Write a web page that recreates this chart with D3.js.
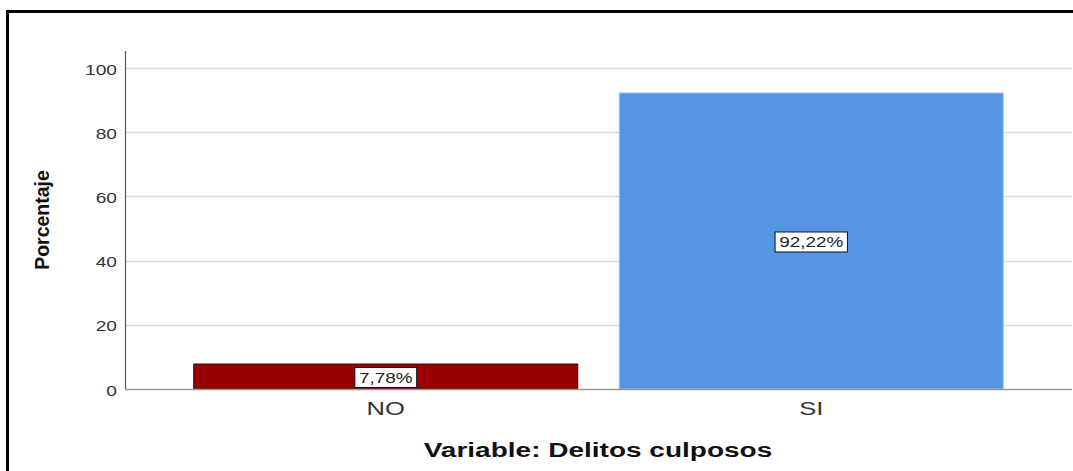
<!DOCTYPE html>
<html>
<head>
<meta charset="utf-8">
<script src="https://cdn.jsdelivr.net/npm/d3@7.9.0/dist/d3.min.js"></script>
<style>
  body { margin: 0; background: #fff; }
  svg { display: block; font-family: "Liberation Sans", Arial, sans-serif; }
</style>
</head>
<body>
<svg id="chart" width="1073" height="471"></svg>
<script>
// Data
const categories = ['NO', 'SI'];
const percentages = [7.78, 92.22];
const barLabels = ['7,78%', '92,22%'];
const colors = ['#990000', '#5596E4'];
const strokes = ['#3a0000', '#9cc3f2'];
const yTicks = [0, 20, 40, 60, 80, 100];

const svg = d3.select('#chart');

// Outer frame
svg.append('path')
  .attr('d', 'M7.5,471 V11.5 H1073')
  .attr('fill', 'none')
  .attr('stroke', '#000')
  .attr('stroke-width', 3);

const plotLeft = 125, plotRight = 1072, plotTop = 51, plotBottom = 389;

const x = d3.scaleBand()
  .domain(categories)
  .range([plotLeft, plotRight])
  .paddingInner(0.0975)
  .paddingOuter(0.1616);

const y = d3.scaleLinear()
  .domain([0, 100])
  .range([plotBottom, 68]);

// Gridlines
svg.append('g')
  .selectAll('line')
  .data(yTicks.filter(d => d > 0))
  .join('line')
  .attr('x1', plotLeft + 1)
  .attr('x2', plotRight)
  .attr('y1', d => Math.round(y(d)) + 0.5)
  .attr('y2', d => Math.round(y(d)) + 0.5)
  .attr('stroke', '#d9d9d9')
  .attr('stroke-width', 1.5);

// Bars
const data = categories.map((c, i) => ({ cat: c, value: percentages[i], label: barLabels[i], i }));

svg.append('g')
  .selectAll('rect')
  .data(data)
  .join('rect')
  .attr('x', d => x(d.cat))
  .attr('y', d => y(d.value))
  .attr('width', x.bandwidth())
  .attr('height', d => y(0) - y(d.value))
  .attr('fill', d => colors[d.i])
  .attr('stroke', d => strokes[d.i])
  .attr('stroke-width', 1);

// the original picture is stretched sideways, so text is widened a bit
const tickStretch = 1.28, catStretch = 1.42, labelStretch = 1.35, titleStretch = 1.4;

// Y axis
const yAxis = svg.append('g')
  .attr('transform', `translate(${plotLeft},0)`)
  .call(d3.axisLeft(y).tickValues(yTicks).tickSize(0));
yAxis.select('.domain').remove();
yAxis.selectAll('text')
  .attr('x', 0)
  .attr('dy', '0.4em')
  .attr('transform', `translate(-8,0) scale(${tickStretch},1)`)
  .attr('font-size', 15)
  .attr('fill', '#333')
  .attr('font-family', '"Liberation Sans", Arial, sans-serif');

svg.append('line')
  .attr('x1', plotLeft + 0.5).attr('x2', plotLeft + 0.5)
  .attr('y1', plotTop).attr('y2', plotBottom)
  .attr('stroke', '#555').attr('stroke-width', 1.2);

// X axis
const xAxis = svg.append('g')
  .attr('transform', `translate(0,${plotBottom})`)
  .call(d3.axisBottom(x).tickSize(0));
xAxis.select('.domain').remove();
xAxis.selectAll('text')
  .attr('y', 0)
  .attr('dy', 0)
  .attr('transform', `translate(0,26) scale(${catStretch},1)`)
  .attr('font-size', 18)
  .attr('fill', '#333')
  .attr('font-family', '"Liberation Sans", Arial, sans-serif');

svg.append('line')
  .attr('x1', plotLeft).attr('x2', plotRight)
  .attr('y1', plotBottom + 0.5).attr('y2', plotBottom + 0.5)
  .attr('stroke', '#999').attr('stroke-width', 1.5);

// Value labels in boxes
const labels = svg.append('g')
  .selectAll('g')
  .data(data)
  .join('g')
  .attr('transform', d => `translate(${x(d.cat) + x.bandwidth() / 2},${(y(d.value) + y(0)) / 2 + 1})`);

labels.append('text')
  .attr('text-anchor', 'middle')
  .attr('dy', '0.36em')
  .attr('transform', `scale(${labelStretch},1)`)
  .attr('font-size', 14)
  .attr('fill', '#222')
  .text(d => d.label)
  .each(function () {
    const w = this.getBBox().width * labelStretch;
    d3.select(this.parentNode).insert('rect', 'text')
      .attr('x', -w / 2 - 4)
      .attr('y', -10)
      .attr('width', w + 8)
      .attr('height', 20)
      .attr('fill', '#fff')
      .attr('stroke', '#111')
      .attr('stroke-width', 1);
  });

// Axis titles
svg.append('text')
  .attr('transform', 'translate(49,220) rotate(-90)')
  .attr('text-anchor', 'middle')
  .attr('font-weight', 'bold')
  .attr('font-size', 19.5)
  .attr('fill', '#111')
  .text('Porcentaje');

svg.append('text')
  .attr('transform', `translate(598,457) scale(${titleStretch},1)`)
  .attr('text-anchor', 'middle')
  .attr('font-weight', 'bold')
  .attr('font-size', 20)
  .attr('fill', '#111')
  .text('Variable: Delitos culposos');
</script>
</body>
</html>
